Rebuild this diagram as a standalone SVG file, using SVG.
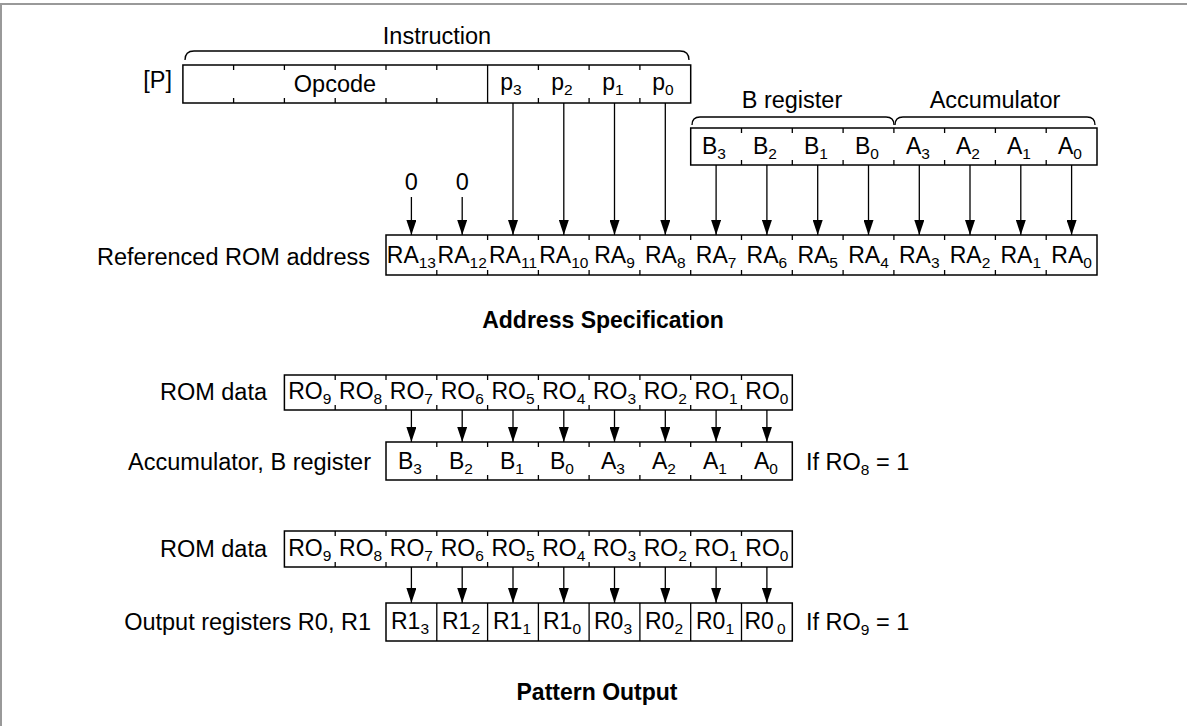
<svg xmlns="http://www.w3.org/2000/svg" width="1187" height="726" viewBox="0 0 1187 726">
<defs>
<style>
text{font-family:"Liberation Sans",Arial,sans-serif;fill:#000}
.t{font-size:23.5px}
.lc{font-size:23.5px;text-anchor:middle}
.c{font-size:23px;text-anchor:middle}
.r{font-size:23.5px;text-anchor:end}
.b{font-size:23px;font-weight:bold;text-anchor:middle}
.s{font-size:15.5px}
.box{fill:#fff;stroke:#000;stroke-width:1.5}
.tk{fill:none;stroke:#000;stroke-width:1.3}
.br{fill:none;stroke:#000;stroke-width:1.3}
.ar{fill:none;stroke:#000;stroke-width:1.3;marker-end:url(#ah)}
</style>
<marker id="ah" markerUnits="userSpaceOnUse" markerWidth="10" markerHeight="15" refX="5" refY="15" orient="0" viewBox="0 0 10 15">
<path d="M0,0 L10,0 L5,15 z" fill="#000"/>
</marker>
</defs>
<rect width="1187" height="726" fill="#fff"/>
<path d="M1,726 V4 H1187" fill="none" stroke="#999" stroke-width="2"/>

<g id="instruction">
<path class="br" d="M185,60 Q185,51 194,51 H680 Q689,51 689,60"/>
<text class="lc" x="437" y="44">Instruction</text>
<text class="r" x="172" y="88">[P]</text>
<rect class="box" x="182.9" y="65" width="507.8" height="38"/>
<path class="tk" d="M487.6,65 V103 M233.6,65v5M284.4,65v5M335.2,65v5M386,65v5M436.8,65v5M538.4,65v5M589.1,65v5M639.9,65v5 M233.6,103v-5M284.4,103v-5M335.2,103v-5M386,103v-5M436.8,103v-5M538.4,103v-5M589.1,103v-5M639.9,103v-5"/>
<text class="lc" x="335" y="92">Opcode</text>
<text class="c" x="511" y="90">p<tspan class="s" dy="5">3</tspan></text>
<text class="c" x="562" y="90">p<tspan class="s" dy="5">2</tspan></text>
<text class="c" x="613" y="90">p<tspan class="s" dy="5">1</tspan></text>
<text class="c" x="663" y="90">p<tspan class="s" dy="5">0</tspan></text>
</g>

<g id="ba-register">
<path class="br" d="M692,125 Q692,117 700,117 H886 Q894,117 894,125"/>
<path class="br" d="M895,125 Q895,117 903,117 H1087 Q1095,117 1095,125"/>
<text class="lc" x="792" y="108">B register</text>
<text class="lc" x="995" y="108">Accumulator</text>
<rect class="box" x="690.7" y="128" width="406.3" height="37"/>
<path class="tk" d="M741.5,128v5M792.3,128v5M843.1,128v5M893.9,128v5M944.6,128v5M995.4,128v5M1046.2,128v5 M741.5,165v-5M792.3,165v-5M843.1,165v-5M893.9,165v-5M944.6,165v-5M995.4,165v-5M1046.2,165v-5"/>
<text class="c" x="714" y="154">B<tspan class="s" dy="5">3</tspan></text>
<text class="c" x="765" y="154">B<tspan class="s" dy="5">2</tspan></text>
<text class="c" x="816" y="154">B<tspan class="s" dy="5">1</tspan></text>
<text class="c" x="867" y="154">B<tspan class="s" dy="5">0</tspan></text>
<text class="c" x="918" y="154">A<tspan class="s" dy="5">3</tspan></text>
<text class="c" x="968" y="154">A<tspan class="s" dy="5">2</tspan></text>
<text class="c" x="1019" y="154">A<tspan class="s" dy="5">1</tspan></text>
<text class="c" x="1070" y="154">A<tspan class="s" dy="5">0</tspan></text>
</g>

<g id="zeros">
<text class="lc" x="411.4" y="190">0</text>
<text class="lc" x="462.2" y="190">0</text>
</g>

<g id="rom-address">
<text class="r" x="370" y="265">Referenced ROM address</text>
<rect class="box" x="386" y="235" width="711" height="40"/>
<path class="tk" d="M436.8,235v5M487.6,235v5M538.4,235v5M589.1,235v5M639.9,235v5M690.7,235v5M741.5,235v5M792.3,235v5M843.1,235v5M893.9,235v5M944.6,235v5M995.4,235v5M1046.2,235v5 M436.8,275v-5M487.6,275v-5M538.4,275v-5M589.1,275v-5M639.9,275v-5M690.7,275v-5M741.5,275v-5M792.3,275v-5M843.1,275v-5M893.9,275v-5M944.6,275v-5M995.4,275v-5M1046.2,275v-5"/>
<text class="c" x="411.4" y="263">RA<tspan class="s" dy="5">13</tspan></text>
<text class="c" x="462.2" y="263">RA<tspan class="s" dy="5">12</tspan></text>
<text class="c" x="513" y="263">RA<tspan class="s" dy="5">11</tspan></text>
<text class="c" x="563.8" y="263">RA<tspan class="s" dy="5">10</tspan></text>
<text class="c" x="614.5" y="263">RA<tspan class="s" dy="5">9</tspan></text>
<text class="c" x="665.3" y="263">RA<tspan class="s" dy="5">8</tspan></text>
<text class="c" x="716.1" y="263">RA<tspan class="s" dy="5">7</tspan></text>
<text class="c" x="766.9" y="263">RA<tspan class="s" dy="5">6</tspan></text>
<text class="c" x="817.7" y="263">RA<tspan class="s" dy="5">5</tspan></text>
<text class="c" x="868.5" y="263">RA<tspan class="s" dy="5">4</tspan></text>
<text class="c" x="919.3" y="263">RA<tspan class="s" dy="5">3</tspan></text>
<text class="c" x="970" y="263">RA<tspan class="s" dy="5">2</tspan></text>
<text class="c" x="1020.8" y="263">RA<tspan class="s" dy="5">1</tspan></text>
<text class="c" x="1071.6" y="263">RA<tspan class="s" dy="5">0</tspan></text>
</g>

<text class="b" x="603" y="328">Address Specification</text>

<g id="rom-data-1">
<text class="r" x="267" y="400">ROM data</text>
<rect class="box" x="284.4" y="375" width="507.9" height="35"/>
<path class="tk" d="M335.2,375v5M386,375v5M436.8,375v5M487.6,375v5M538.4,375v5M589.1,375v5M639.9,375v5M690.7,375v5M741.5,375v5 M335.2,410v-5M386,410v-5M436.8,410v-5M487.6,410v-5M538.4,410v-5M589.1,410v-5M639.9,410v-5M690.7,410v-5M741.5,410v-5"/>
<text class="c" x="309.8" y="399">RO<tspan class="s" dy="5">9</tspan></text>
<text class="c" x="360.6" y="399">RO<tspan class="s" dy="5">8</tspan></text>
<text class="c" x="411.4" y="399">RO<tspan class="s" dy="5">7</tspan></text>
<text class="c" x="462.2" y="399">RO<tspan class="s" dy="5">6</tspan></text>
<text class="c" x="513" y="399">RO<tspan class="s" dy="5">5</tspan></text>
<text class="c" x="563.8" y="399">RO<tspan class="s" dy="5">4</tspan></text>
<text class="c" x="614.5" y="399">RO<tspan class="s" dy="5">3</tspan></text>
<text class="c" x="665.3" y="399">RO<tspan class="s" dy="5">2</tspan></text>
<text class="c" x="716.1" y="399">RO<tspan class="s" dy="5">1</tspan></text>
<text class="c" x="766.9" y="399">RO<tspan class="s" dy="5">0</tspan></text>
</g>

<g id="acc-b-register">
<text class="r" x="371" y="470">Accumulator, B register</text>
<rect class="box" x="386" y="442" width="406.3" height="38"/>
<path class="tk" d="M436.8,442v5M487.6,442v5M538.4,442v5M589.1,442v5M639.9,442v5M690.7,442v5M741.5,442v5 M436.8,480v-5M487.6,480v-5M538.4,480v-5M589.1,480v-5M639.9,480v-5M690.7,480v-5M741.5,480v-5"/>
<text class="c" x="410" y="469">B<tspan class="s" dy="5">3</tspan></text>
<text class="c" x="461" y="469">B<tspan class="s" dy="5">2</tspan></text>
<text class="c" x="512" y="469">B<tspan class="s" dy="5">1</tspan></text>
<text class="c" x="562" y="469">B<tspan class="s" dy="5">0</tspan></text>
<text class="c" x="613" y="469">A<tspan class="s" dy="5">3</tspan></text>
<text class="c" x="664" y="469">A<tspan class="s" dy="5">2</tspan></text>
<text class="c" x="715" y="469">A<tspan class="s" dy="5">1</tspan></text>
<text class="c" x="766" y="469">A<tspan class="s" dy="5">0</tspan></text>
<text class="t" x="806" y="470">If RO<tspan class="s" dy="5">8</tspan><tspan dy="-5"> = 1</tspan></text>
</g>

<g id="rom-data-2">
<text class="r" x="267" y="557">ROM data</text>
<rect class="box" x="284.4" y="531" width="507.9" height="36"/>
<path class="tk" d="M335.2,531v5M386,531v5M436.8,531v5M487.6,531v5M538.4,531v5M589.1,531v5M639.9,531v5M690.7,531v5M741.5,531v5 M335.2,567v-5M386,567v-5M436.8,567v-5M487.6,567v-5M538.4,567v-5M589.1,567v-5M639.9,567v-5M690.7,567v-5M741.5,567v-5"/>
<text class="c" x="309.8" y="556">RO<tspan class="s" dy="5">9</tspan></text>
<text class="c" x="360.6" y="556">RO<tspan class="s" dy="5">8</tspan></text>
<text class="c" x="411.4" y="556">RO<tspan class="s" dy="5">7</tspan></text>
<text class="c" x="462.2" y="556">RO<tspan class="s" dy="5">6</tspan></text>
<text class="c" x="513" y="556">RO<tspan class="s" dy="5">5</tspan></text>
<text class="c" x="563.8" y="556">RO<tspan class="s" dy="5">4</tspan></text>
<text class="c" x="614.5" y="556">RO<tspan class="s" dy="5">3</tspan></text>
<text class="c" x="665.3" y="556">RO<tspan class="s" dy="5">2</tspan></text>
<text class="c" x="716.1" y="556">RO<tspan class="s" dy="5">1</tspan></text>
<text class="c" x="766.9" y="556">RO<tspan class="s" dy="5">0</tspan></text>
</g>

<g id="output-registers">
<text class="r" x="371" y="630">Output registers R0, R1</text>
<rect class="box" x="386" y="603" width="406.3" height="38"/>
<path class="tk" d="M436.8,603V641M487.6,603V641M538.4,603V641M589.1,603V641M639.9,603V641M690.7,603V641M741.5,603V641"/>
<text class="c" x="410" y="629">R1<tspan class="s" dy="5">3</tspan></text>
<text class="c" x="461" y="629">R1<tspan class="s" dy="5">2</tspan></text>
<text class="c" x="512" y="629">R1<tspan class="s" dy="5">1</tspan></text>
<text class="c" x="562" y="629">R1<tspan class="s" dy="5">0</tspan></text>
<text class="c" x="613" y="629">R0<tspan class="s" dy="5">3</tspan></text>
<text class="c" x="664" y="629">R0<tspan class="s" dy="5">2</tspan></text>
<text class="c" x="715" y="629">R0<tspan class="s" dy="5">1</tspan></text>
<text class="c" x="765" y="629">R0<tspan class="s" dx="3" dy="5">0</tspan></text>
<text class="t" x="806" y="630">If RO<tspan class="s" dy="5">9</tspan><tspan dy="-5"> = 1</tspan></text>
</g>

<text class="b" x="597" y="700">Pattern  Output</text>

<g id="connectors">
<path class="ar" d="M411.4,197V235"/>
<path class="ar" d="M462.2,197V235"/>
<path class="ar" d="M513,103V235"/>
<path class="ar" d="M563.8,103V235"/>
<path class="ar" d="M614.5,103V235"/>
<path class="ar" d="M665.3,103V235"/>
<path class="ar" d="M716.1,165V235"/>
<path class="ar" d="M766.9,165V235"/>
<path class="ar" d="M817.7,165V235"/>
<path class="ar" d="M868.5,165V235"/>
<path class="ar" d="M919.3,165V235"/>
<path class="ar" d="M970,165V235"/>
<path class="ar" d="M1020.8,165V235"/>
<path class="ar" d="M1071.6,165V235"/>
<path class="ar" d="M411.4,410V442"/>
<path class="ar" d="M462.2,410V442"/>
<path class="ar" d="M513,410V442"/>
<path class="ar" d="M563.8,410V442"/>
<path class="ar" d="M614.5,410V442"/>
<path class="ar" d="M665.3,410V442"/>
<path class="ar" d="M716.1,410V442"/>
<path class="ar" d="M766.9,410V442"/>
<path class="ar" d="M411.4,567V603"/>
<path class="ar" d="M462.2,567V603"/>
<path class="ar" d="M513,567V603"/>
<path class="ar" d="M563.8,567V603"/>
<path class="ar" d="M614.5,567V603"/>
<path class="ar" d="M665.3,567V603"/>
<path class="ar" d="M716.1,567V603"/>
<path class="ar" d="M766.9,567V603"/>
</g>
</svg>
